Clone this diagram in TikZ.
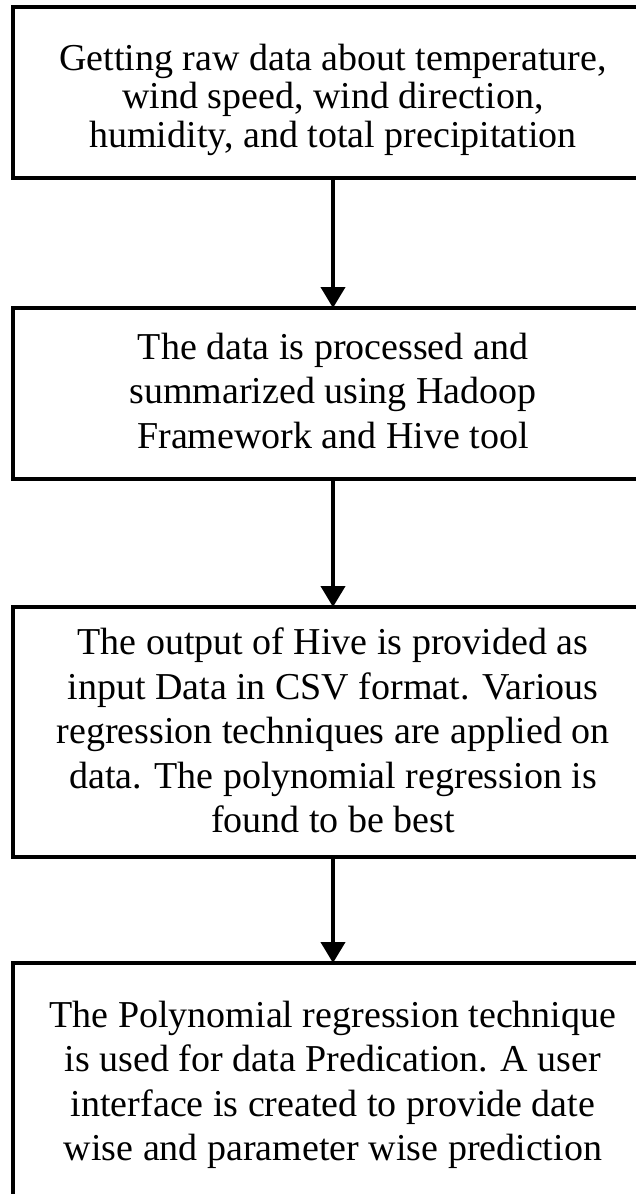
\documentclass[tikz,border=0pt]{standalone}
\usepackage{fontspec}
\setmainfont{Liberation Serif}
\usetikzlibrary{arrows.meta}
\tikzset{
  stepbox/.style={draw, line width=3.5pt, minimum width=640pt, inner sep=0pt, outer sep=0pt, anchor=north},
  steptext/.style={align=center, inner sep=0pt, font=\fontsize{38}{44.5}\selectfont},
  flow/.style={line width=4pt, -{Triangle[width=24pt,length=21pt]}}
}
\begin{document}
\begin{tikzpicture}[x=1pt,y=-1pt]
\useasboundingbox (0,0) rectangle (636,1194);

% process boxes (right side and last bottom run past the page edge)
\node[stepbox, minimum height=171pt] (b1) at (333,7) {};
\node[stepbox, minimum height=171pt] (b2) at (333,308) {};
\node[stepbox, minimum height=250pt] (b3) at (333,607) {};
\node[stepbox, minimum height=270pt] (b4) at (333,963) {};

% box texts
\node[steptext, font=\fontsize{38}{38.5}\selectfont] (t1) at (333,101)
  {\strut Getting raw data about temperature,\\ wind speed, wind direction,\\ humidity, and total precipitation\strut};
\node[steptext] (t2) at (333,395)
  {\strut The data is processed and\\ summarized using Hadoop\\ Framework and Hive tool\strut};
\node[steptext] (t3) at (333,735)
  {\strut The output of Hive is provided as\\ input Data in CSV format. Various\\ regression techniques are applied on\\ data. The polynomial regression is\\ found to be best\strut};
\node[steptext] (t4) at (333,1085)
  {\strut The Polynomial regression technique\\ is used for data Predication. A user\\ interface is created to provide date\\ wise and parameter wise prediction\strut};

% connectors
\draw[flow] (b1.south) -- (b2.north);
\draw[flow] (b2.south) -- (b3.north);
\draw[flow] (b3.south) -- (b4.north);
\end{tikzpicture}
\end{document}
